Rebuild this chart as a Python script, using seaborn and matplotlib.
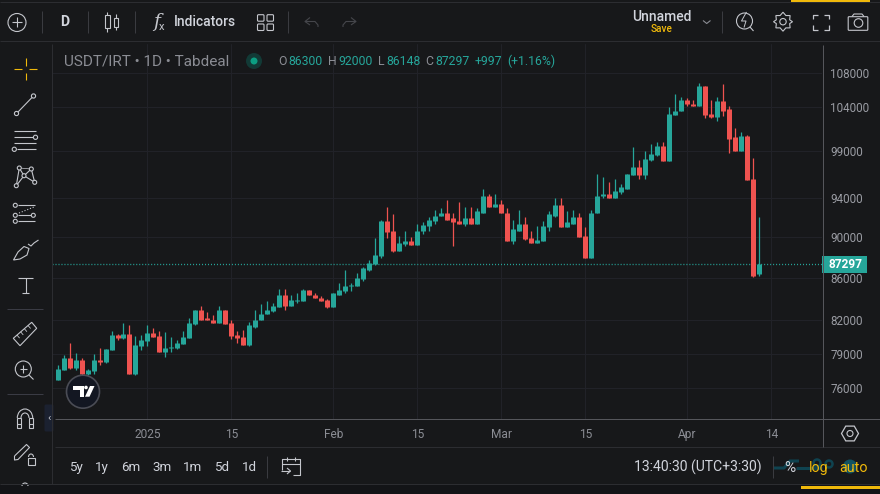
import pandas as pd
import seaborn as sns
import matplotlib
matplotlib.use('Agg')
import matplotlib.pyplot as plt
from matplotlib.patches import Circle, Rectangle, Polygon, FancyBboxPatch, Arc
from matplotlib.ticker import NullLocator

opens = [76670, 77530, 78580, 77710, 78400, 77190, 77450, 78400, 78310, 79280,
         80620, 80350, 80710, 77190, 79640, 80080, 80800, 80530, 79190, 79460,
         79460, 79900, 80350, 81620, 82900, 82170, 82070, 81710, 82900, 81710,
         80620, 80440, 79810, 81430, 81980, 82530, 82810, 83180, 84390, 83270,
         83740, 83740, 84770, 84390, 84110, 83830, 83180, 84390, 84680, 85150,
         85150, 85820, 86780, 87270, 88050, 91560, 90540, 88640, 89240, 89540,
         89140, 90540, 91050, 91560, 92070, 92380, 91870, 91560, 91250, 91870,
         91350, 92480, 94250, 93000, 93310, 92480, 89540, 90640, 91250, 89840,
         89340, 89540, 90950, 92170, 93210, 90950, 91350, 91970, 90040, 87950,
         92380, 94150, 94460, 93940, 94570, 94990, 96380, 97250, 96380, 98010,
         98560, 99660, 97900, 103060, 103520, 104800, 104440, 104100, 106450, 103170,
         102830, 104680, 103750, 100560, 99000, 100670, 95950, 86300]
highs = [77970, 78840, 79990, 79020, 78580, 77620, 78930, 79460, 79370, 80980,
         80710, 81710, 81530, 80530, 80620, 81530, 81340, 80980, 80890, 80440,
         80170, 80980, 82170, 82990, 83270, 82720, 82440, 83270, 82990, 82070,
         80980, 81070, 81800, 82900, 83460, 83740, 83550, 84870, 84870, 84390,
         84490, 84870, 84770, 84580, 84210, 83930, 84490, 85440, 86780, 85530,
         86400, 86980, 87660, 89840, 91660, 93100, 92280, 90040, 90640, 89940,
         91250, 91460, 91970, 92790, 92900, 93730, 92380, 93520, 93000, 93000,
         92900, 94890, 94460, 94460, 93730, 92900, 91660, 92790, 91970, 90640,
         91050, 91560, 92590, 93940, 93940, 92590, 92690, 92480, 90950, 92790,
         96490, 96270, 95630, 95950, 95520, 96490, 99440, 98010, 99000, 99880,
         100000, 100000, 103980, 105500, 105150, 105030, 104800, 106920, 106560, 104800,
         105260, 106800, 104100, 101680, 101120, 100780, 98230, 92000]
lows = [76670, 77530, 77620, 77530, 77100, 77100, 77190, 78050, 78140, 79280,
        80170, 80260, 77190, 77100, 79280, 79640, 80440, 79190, 78670, 79190,
        79370, 79900, 80350, 81530, 81980, 81980, 81710, 81710, 81620, 80260,
        79990, 79810, 79640, 81250, 81980, 82530, 82720, 83180, 82990, 83270,
        83550, 83740, 84300, 84020, 83740, 83090, 83180, 84390, 84580, 84680,
        85150, 85630, 86590, 87170, 87950, 89840, 88540, 88640, 89040, 89140,
        89140, 90240, 90640, 91350, 92070, 91760, 89040, 91250, 91050, 91350,
        91350, 92480, 93000, 93000, 92380, 89540, 89240, 90540, 89640, 89340,
        89340, 89540, 90640, 91970, 90950, 90950, 91350, 89940, 87950, 87950,
        92380, 94040, 93940, 93940, 94460, 94890, 96380, 95950, 95950, 97900,
        98450, 97900, 97900, 103060, 103520, 104100, 104100, 104100, 102710, 102710,
        102480, 102940, 98780, 99000, 99000, 95850, 86010, 86148]
closes = [77620, 78580, 77710, 78400, 77190, 77530, 78400, 78310, 79370, 80620,
          80350, 80710, 77190, 79730, 80170, 80800, 80440, 79190, 79460, 79550,
          79990, 80440, 81710, 82900, 82070, 82070, 81710, 82900, 81620, 80530,
          80350, 79810, 81530, 82070, 82620, 82900, 83270, 84390, 83270, 83830,
          83830, 84770, 84300, 84020, 83740, 83180, 84490, 84770, 85150, 85250,
          85920, 86880, 87370, 88150, 91560, 90440, 88640, 89340, 89540, 89140,
          90640, 91150, 91660, 92170, 92380, 91760, 91460, 91250, 91870, 91350,
          92590, 94250, 93000, 93310, 92380, 89540, 90750, 91250, 89740, 89340,
          89640, 91050, 92280, 93210, 90950, 91460, 91970, 89940, 87950, 92480,
          94250, 94460, 93940, 94680, 95100, 96490, 97250, 96380, 98120, 98670,
          99660, 97900, 103170, 103630, 104800, 104330, 104100, 106450, 103060, 102830,
          104680, 103630, 100440, 99000, 100670, 95850, 86200, 87297]

y_ticks = [76000, 79000, 82000, 86000, 90000, 94000, 99000, 104000, 108000]
x_tick_pos = [15, 29, 46, 60, 74, 88, 105, 119]
x_tick_labels = ['2025', '15', 'Feb', '15', 'Mar', '15', 'Apr', '14']
ranges = ['5y', '1y', '6m', '3m', '1m', '5d', '1d']

BG = '#17181a'
GRID = '#212228'
EDGE = '#55565b'
SEP = '#2c2d31'
ICON = '#c4c6cc'
TEXT = '#d1d4dc'
GRAY = '#8b8d94'
UP = '#26a69a'
DOWN = '#ef5350'
YELLOW = '#f0b90b'
PX = 72 / 100

sns.set_theme(style='dark', rc={'axes.facecolor': BG, 'figure.facecolor': BG,
                                'axes.grid': True, 'grid.color': GRID, 'grid.linewidth': PX})
plt.rcParams['font.family'] = ['Roboto', 'DejaVu Sans']

df = pd.DataFrame({'candle': range(len(opens)), 'open': opens, 'high': highs, 'low': lows, 'close': closes})
df['side'] = ['up' if c >= o else 'down' for o, c in zip(opens, closes)]
wicks = df.melt(id_vars=['candle', 'side'], value_vars=['low', 'high'], value_name='price')
bodies = df.melt(id_vars=['candle', 'side'], value_vars=['open', 'close'], value_name='price')
palette = {'up': UP, 'down': DOWN}

fig = plt.figure(figsize=(8.8, 4.94), dpi=100)
ax = fig.add_axes([52 / 880, 1 - 419 / 494, 770 / 880, 375 / 494])

sns.lineplot(data=wicks, x='candle', y='price', hue='side', units='candle', estimator=None,
             palette=palette, linewidth=1.25 * PX, solid_capstyle='butt', legend=False, ax=ax)
sns.lineplot(data=bodies, x='candle', y='price', hue='side', units='candle', estimator=None,
             palette=palette, linewidth=5 * PX, solid_capstyle='butt', legend=False, ax=ax)
ax.axhline(closes[-1], color=UP, lw=1.3 * PX, ls=(0, (0.8, 1.5)), zorder=1)

ax.set_yscale('log')
ax.set_ylim(73444, 111615)
ax.set_xlim(-0.917, 127.42)
ax.yaxis.tick_right()
ax.yaxis.set_minor_locator(NullLocator())
ax.set_yticks(y_ticks, [str(v) for v in y_ticks])
ax.set_xticks(x_tick_pos, x_tick_labels)
ax.set_xlabel('')
ax.set_ylabel('')
ax.tick_params(axis='y', length=0, pad=6, labelsize=8.4, labelcolor='#9a9ca3')
ax.tick_params(axis='x', length=0, pad=6.5, labelsize=8.6, labelcolor='#8b8d94')
ax.grid(True, color=GRID, lw=PX)
ax.set_axisbelow(True)
sns.despine(ax=ax, left=True, top=True, right=True, bottom=True)

# toolbar chrome, drawn in pixel coordinates of the screenshot
ov = fig.add_axes([0, 0, 1, 1], facecolor='none')
ov.set_xlim(0, 880)
ov.set_ylim(494, 0)
ov.axis('off')


def seg(pts, color=ICON, lw=0.8, **kw):
    ov.plot([p[0] for p in pts], [p[1] for p in pts], color=color, lw=lw, solid_capstyle='butt', **kw)


def ring(x, y, r, color=ICON, lw=0.8, fill='none', **kw):
    ov.add_patch(Circle((x, y), r, ec=color, fc=fill, lw=lw, **kw))


def box(x0, y0, x1, y1, color=ICON, lw=0.8, fill='none'):
    ov.add_patch(Rectangle((x0, y0), x1 - x0, y1 - y0, ec=color, fc=fill, lw=lw))


def txt(x, y, s, size=9, color=TEXT, ha='center', **kw):
    ov.text(x, y, s, fontsize=size, color=color, ha=ha, va='center', **kw)


# frame lines
for y0 in [2.5, 41]:
    seg([(0, y0), (880, y0)], SEP, PX)
seg([(55, 447), (880, 447)], SEP, PX)
seg([(0, 484), (880, 484)], SEP, PX)
seg([(51.5, 44), (51.5, 484)], SEP, PX)
seg([(55, 419), (880, 419)], EDGE, PX)
seg([(822.5, 45), (822.5, 447)], EDGE, PX)
ov.add_patch(Rectangle((791, 0), 79, 1.6, fc=YELLOW, ec='none'))
ov.add_patch(Rectangle((0, 484.5), 880, 10, fc='#131417', ec='none', zorder=0))
ov.add_patch(Rectangle((801, 485.5), 79, 3, fc=YELLOW, ec='none'))

# price tag
ov.add_patch(Rectangle((822, 256), 45, 16.5, fc=UP, ec='none'))
txt(845.5, 264, str(closes[-1]), 8.6, 'white', fontweight='bold')

# top bar
ring(17, 22.5, 9)
seg([(17, 17.5), (17, 27.5)])
seg([(12, 22.5), (22, 22.5)])
for x0 in [41.5, 87.5, 134.5, 288]:
    seg([(x0, 11), (x0, 33)], '#3a3b40', PX)
txt(64.5, 22.5, 'D', 10, TEXT, fontweight='bold')
box(105, 15, 109.7, 28.3)
seg([(107.3, 12), (107.3, 15)])
seg([(107.3, 28.3), (107.3, 32)])
box(113.5, 18, 118, 27)
seg([(115.7, 14), (115.7, 18)])
seg([(115.7, 27), (115.7, 30)])
txt(156.5, 22, 'f', 13.5, ICON, family='DejaVu Serif', style='italic')
txt(162, 27.5, 'x', 8, ICON)
txt(174, 22.5, 'Indicators', 10, TEXT, ha='left', fontweight='medium')
for x0, y0 in [(257.5, 14.7), (267, 14.7), (257.5, 24), (267, 24)]:
    ov.add_patch(FancyBboxPatch((x0 + 1, y0 + 1), 4.5, 4.5, boxstyle='round,pad=1', ec=ICON, fc='none', lw=0.8))
for x0, x1 in [(305, 318), (356, 343)]:
    d = 1 if x1 > x0 else -1
    seg([(x0 + 5 * d, 17.5), (x0, 21.5), (x0 + 5 * d, 25)], '#45464b')
    seg([(x0, 21.5), (x1 - 3 * d, 21.5), (x1, 25), (x1, 27)], '#45464b')
txt(661.5, 17, 'Unnamed', 10, TEXT, fontweight='medium')
txt(662, 29.5, 'Save', 7.2, YELLOW, fontweight='medium')
seg([(703, 20.5), (706.7, 23.5), (710.5, 20.5)], GRAY)
seg([(721.7, 11), (721.7, 33)], '#3a3b40', PX)
ring(744.5, 21, 8)
seg([(750, 27), (753.5, 31)])
seg([(746.5, 12), (741.5, 21), (746, 21), (744, 27.5)], lw=0.7)
ov.add_patch(Polygon([(783 + 9.5 * dx, 21.7 + 9.5 * dy) for dx, dy in
                      [(0, -1), (.3, -.65), (.75, -.65), (.7, -.2), (1, 0), (.7, .2), (.75, .65), (.3, .65),
                       (0, 1), (-.3, .65), (-.75, .65), (-.7, .2), (-1, 0), (-.7, -.2), (-.75, -.65), (-.3, -.65)]],
                     ec=ICON, fc='none', lw=0.8))
ring(783, 21.7, 3.2)
for xa, xb, ya, yb in [(813, 818, 14.7, 19), (829, 824, 14.7, 19), (813, 818, 29.7, 25.5), (829, 824, 29.7, 25.5)]:
    seg([(xb, ya), (xa, ya), (xa, yb)], lw=0.9)
ov.add_patch(FancyBboxPatch((849, 17.5), 18, 12, boxstyle='round,pad=0.8', ec=ICON, fc='none', lw=0.8))
seg([(852, 16.5), (854, 14), (862, 14), (864, 16.5)])
ring(858.5, 23, 4.3)

# left tools
seg([(14, 69.5), (22, 69.5)], YELLOW)
seg([(29, 69.5), (37, 69.5)], YELLOW)
seg([(25.5, 58), (25.5, 66)], YELLOW)
seg([(25.5, 73), (25.5, 80)], YELLOW)
seg([(18, 112), (32, 97.5)])
ring(16.5, 113.5, 2.1)
ring(33.5, 96, 2.1)
seg([(14, 131), (36, 131)])
seg([(14, 137.3), (33, 137.3)])
ring(35.5, 137.3, 2.1)
seg([(14, 143.3), (36, 143.3)])
seg([(16.5, 149.3), (36, 149.3)])
ring(14.3, 149.3, 2.1)
xabcd = [(16.3, 185.7), (19.3, 168), (24, 175.7), (31.3, 169), (34.7, 182.3), (24, 175.7), (16.3, 185.7)]
seg(xabcd)
seg([(19.3, 168), (31.3, 169)], lw=0.5)
for px0, py0 in xabcd[:5]:
    ring(px0, py0, 2, fill=BG, zorder=3)
for y0 in [205.3, 215.3, 221.3]:
    seg([(17.5, y0), (35, y0)])
    ring(15.3, y0, 2, fill=BG, zorder=3)
ring(33.3, 215.3, 2, fill=BG, zorder=3)
seg([(19, 213), (34, 207)], ls=':', lw=0.8)
ov.add_patch(Polygon([(13.5, 260), (18, 252), (24, 246.5), (29, 248.5), (27, 255), (20, 259)], ec=ICON, fc='none', lw=0.8))
seg([(28, 244), (31, 246), (34, 243), (38.5, 240)])
seg([(18, 277.5), (32.7, 277.5)])
seg([(25.5, 277.5), (25.5, 293)])
seg([(22, 293), (29, 293)])
seg([(7, 309), (43, 309)], '#3a3b44', PX)
ov.add_patch(Polygon([(13.3, 338.3), (31.7, 322.3), (36.7, 328.3), (20, 345.7)], ec=ICON, fc='none', lw=0.8))
for t in [0.2, 0.4, 0.6, 0.8]:
    bx, by = 13.3 + 18.4 * t, 338.3 - 16 * t
    seg([(bx, by), (bx + 2.6, by + 3)], lw=0.6)
ring(23.3, 369, 8)
seg([(19.5, 369), (27, 369)])
seg([(23.3, 365), (23.3, 373)])
seg([(29, 375), (33.5, 379.5)])
seg([(7, 394.3), (43, 394.3)], '#3a3b44', PX)
ov.add_patch(Arc((25, 418), 15.4, 18, theta1=180, theta2=360, ec=ICON, lw=0.8))
ov.add_patch(Arc((25, 418), 8, 10, theta1=180, theta2=360, ec=ICON, lw=0.8))
box(17.3, 418, 21, 428)
box(29, 418, 32.7, 428)
seg([(17.3, 423.5), (21, 423.5)])
seg([(29, 423.5), (32.7, 423.5)])
seg([(14.5, 456), (26.5, 444.5), (29.5, 447.5), (18, 459.5), (14.5, 460), (14.5, 456)])
box(27.5, 457.5, 35, 464.5)
ov.add_patch(Arc((31, 457), 5, 6, theta1=180, theta2=360, ec=ICON, lw=0.8))
ov.add_patch(Arc((25, 486), 6, 6, theta1=180, theta2=360, ec=ICON, lw=0.8))
ov.add_patch(FancyBboxPatch((46, 406), 6, 24, boxstyle='round,pad=1.5', ec='none', fc='#1b2130'))
txt(49, 418, '\u2039', 8, ICON)

# legend row
txt(64, 61.5, 'USDT/IRT \u2022 1D \u2022 Tabdeal', 11, GRAY, ha='left')
ring(254, 61, 8, color='none', fill='#123a36', lw=0)
ring(254, 61, 3.5, color='none', fill='#0c9e82', lw=0)
legend_row = [(278, 'O', 288, '86300'), (328, 'H', 338.5, '92000'), (378, 'L', 386, '86148'),
              (425.5, 'C', 435, '87297')]
for x0, letter, x1, value in legend_row:
    txt(x0, 61.5, letter, 8.8, GRAY, ha='left')
    txt(x1, 61.5, value, 8.8, UP, ha='left')
txt(475, 61.5, '+997', 8.8, UP, ha='left')
txt(507, 61.5, '(+1.16%)', 8.8, UP, ha='left')

# logo
ring(83, 391.7, 16.5, color='#4a4c55', fill='#131722', lw=1.2, zorder=4)
ov.add_patch(Polygon([(72.7, 386), (84, 386), (84, 396.7), (80, 396.7), (80, 390), (72.7, 390)], fc='white', ec='none', zorder=5))
ring(86, 387.5, 1.8, color='none', fill='white', lw=0, zorder=5)
ov.add_patch(Polygon([(90, 386), (94.5, 386), (89.5, 396.7), (85, 396.7)], fc='white', ec='none', zorder=5))

# bottom bar
for label, x0 in zip(ranges, [76, 102.3, 130.7, 161.7, 193, 221.7, 249.3]):
    txt(x0, 467.5, label, 9.6, TEXT)
seg([(267.3, 456), (267.3, 478)], '#3a3b40', PX)
seg([(293, 475), (300, 475), (300, 459), (282, 459), (282, 470)])
seg([(282, 463.5), (300, 463.5)])
seg([(287, 457), (287, 461)])
seg([(295, 457), (295, 461)])
seg([(281, 471), (290, 471)])
seg([(287, 468), (290.5, 471), (287, 474)])
txt(697.5, 467.5, '13:40:30 (UTC+3:30)', 10.1, TEXT)
seg([(772.5, 456), (772.5, 478)], '#3a3b40', PX)
# faded watermark behind the scale buttons
wm = '#0f4350'
seg([(774, 468), (784, 468), (790, 461), (799, 461)], wm, 2.2)
seg([(796, 468), (822, 468)], wm, 2.2)
ring(817, 463, 3.5, color=wm, lw=1.8)
ring(829, 464, 3.5, color=wm, lw=1.8)
ring(850, 466.5, 7, color='none', fill='#105262', lw=0)
txt(790, 467.5, '%', 11, TEXT)
txt(819, 467.5, 'log', 10.3, YELLOW)
txt(854, 467.5, 'auto', 10.3, YELLOW)
ov.add_patch(Polygon([(850 + 8.5 * dx, 433.5 + 8.5 * dy) for dx, dy in
                      [(-1, 0), (-.5, -.87), (.5, -.87), (1, 0), (.5, .87), (-.5, .87)]], ec=ICON, fc='none', lw=0.9))
ring(850, 433.5, 3)

fig.savefig('out.png', dpi=100, facecolor=BG)
plt.close()
